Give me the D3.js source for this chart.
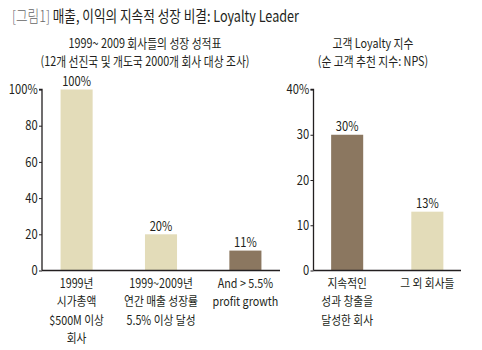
<!DOCTYPE html>
<html><head><meta charset="utf-8">
<script src="https://cdn.jsdelivr.net/npm/d3@7"></script>
<style>
body{margin:0;background:#fff;}
svg text{font-family:"Noto Sans CJK KR","Liberation Sans",sans-serif;fill:#231f20;}
</style></head>
<body>
<svg id="c" width="482" height="350"></svg>
<script>
const titlePrefix = "[그림1]";
const titleMain = " 매출, 이익의 지속적 성장 비결: Loyalty Leader";

const leftTitle = ["1999~ 2009 회사들의 성장 성적표", "(12개 선진국 및 개도국 2000개 회사 대상 조사)"];
const leftCategories = [
  ["1999년", "시가총액", "$500M 이상", "회사"],
  ["1999~2009년", "연간 매출 성장률", "5.5% 이상 달성"],
  ["And > 5.5%", "profit growth"]
];
const leftValues = [100, 20, 11];
const leftColors = ["light", "light", "dark"];
const leftTicks = [0, 20, 40, 60, 80, 100];

const rightTitle = ["고객 Loyalty 지수", "(순 고객 추천 지수: NPS)"];
const rightCategories = [
  ["지속적인", "성과 창출을", "달성한 회사"],
  ["그 외 회사들"]
];
const rightValues = [30, 13];
const rightColors = ["dark", "light"];
const rightTicks = [0, 10, 20, 30, 40];

const palette = {light: "#e3dcb9", dark: "#8b7760"};
const SX = 0.86; // condensed look

const svg = d3.select("#c");

function ctext(g, x, y, s, size, anchor, sx){
  return g.append("text")
    .attr("transform", `translate(${x},${y}) scale(${sx||SX},1)`)
    .attr("text-anchor", anchor||"middle")
    .style("font-size", size+"px")
    .text(s);
}

// Title
const t = svg.append("text").attr("transform","translate(12,22) scale(0.815,1)")
  .style("font-size","15.5px");
t.append("tspan").text(titlePrefix).style("fill","#666").style("font-weight","300");
t.append("tspan").text(titleMain).style("fill","#231f20");

function panel(opts){
  const {x0, x1, yTop, yBot, categories, values, colors, ticks, maxV, bandPad, title, titleX} = opts;
  const x = d3.scaleBand().domain(d3.range(categories.length)).range([x0, x1]).paddingInner(bandPad.inner).paddingOuter(bandPad.outer);
  const y = d3.scaleLinear().domain([0, maxV]).range([yBot, yTop]);
  const g = svg.append("g");

  title.forEach((s,i)=> ctext(g, titleX, 48 + i*17.5, s, 13, "middle", 0.83));

  g.selectAll("rect").data(values).join("rect")
    .attr("x",(d,i)=>x(i)).attr("width",x.bandwidth())
    .attr("y",d=>y(d)).attr("height",d=>yBot-y(d))
    .attr("fill",(d,i)=>palette[colors[i]]);

  values.forEach((d,i)=> ctext(g, x(i)+x.bandwidth()/2, y(d)-3.5, d+"%", 13, "middle", 0.86));

  const ax = d3.axisLeft(y).tickValues(ticks).tickSize(3).tickPadding(2)
    .tickFormat(d=> d===maxV ? d+"%" : d);
  const ag = g.append("g").attr("transform",`translate(${x0},0)`).call(ax);
  ag.select(".domain").attr("stroke","#231f20").attr("stroke-width",1.3).attr("d",`M-3,${yTop}H0V${yBot}`);
  ag.selectAll(".tick line").attr("stroke","#231f20");
  ag.selectAll(".tick text").style("font-size","13px").style("font-family",'"Noto Sans CJK KR",sans-serif')
    .attr("fill","#231f20").attr("transform","scale(0.86,1)");

  g.append("line").attr("x1",x0).attr("x2",x1).attr("y1",yBot).attr("y2",yBot)
    .attr("stroke","#231f20").attr("stroke-width",1.3);

  categories.forEach((lines,i)=>{
    lines.forEach((s,j)=> ctext(g, x(i)+x.bandwidth()/2, yBot+17+j*18.5, s, 12.5, "middle", 0.86));
  });
}

panel({x0:42, x1:280, yTop:89.5, yBot:270.5, categories:leftCategories, values:leftValues, colors:leftColors,
  ticks:leftTicks, maxV:100, bandPad:{inner:0.62, outer:0.22}, title:leftTitle, titleX:145});
panel({x0:313.5, x1:461, yTop:89.5, yBot:270.5, categories:rightCategories, values:rightValues, colors:rightColors,
  ticks:rightTicks, maxV:40, bandPad:{inner:0.6, outer:0.22}, title:rightTitle, titleX:373});
</script>
</body></html>
